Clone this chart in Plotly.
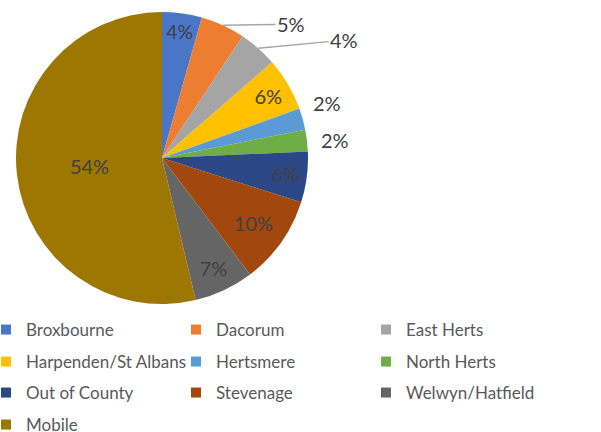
import math
import plotly.graph_objects as go

labels = ["Broxbourne", "Dacorum", "East Herts", "Harpenden/St Albans", "Hertsmere",
          "North Herts", "Out of County", "Stevenage", "Welwyn/Hatfield", "Mobile"]
values = [4.4, 4.9, 4.3, 5.9, 2.4, 2.4, 5.6, 9.8, 6.6, 53.7]
colors = ["#4A76C8", "#ED7D31", "#A5A5A5", "#FFC000", "#5B9BD5",
          "#70AD47", "#2A4786", "#A2470E", "#656565", "#9E7602"]
positions = ["inside", "none", "none", "inside", "none",
             "none", "inside", "inside", "inside", "inside"]
legend_rows = [1, 1, 1, 2, 2, 2, 3, 3, 3, 4]

W, H = 601, 432
PLOT_H = 312          # plot area height (legend sits below it)
cx, cy, r = 162, 158, 146
FONT = "Lato"
TXT = "#404040"

fig = go.Figure()
fig.add_trace(go.Pie(
    labels=labels, values=values, sort=False, direction="clockwise", rotation=0,
    marker=dict(colors=colors, line=dict(color="white", width=0)),
    texttemplate="%{percent:.0%}",
    textposition=positions,
    insidetextorientation="horizontal",
    textfont=dict(family=FONT, size=20, color=TXT),
    insidetextfont=dict(family=FONT, size=20, color=TXT),
    domain=dict(x=[(cx - r) / W, (cx + r) / W],
                y=[(PLOT_H - cy - r) / PLOT_H, (PLOT_H - cy + r) / PLOT_H]),
    showlegend=False,
    hoverinfo="label+percent",
))

# outside labels (Dacorum, East Herts with leader lines; Hertsmere, North Herts plain)
total = sum(values)
label_offsets = {1: (68, -1, True), 2: (86, -8, True), 4: (24, -16, False), 5: (28, -1, False)}
cum = 0.0
for i, v in enumerate(values):
    mid = (cum + v / 2) / total * 2 * math.pi
    cum += v
    if i not in label_offsets:
        continue
    px = cx + r * math.sin(mid)
    py = cy - r * math.cos(mid)
    dx, dy, arrow = label_offsets[i]
    txt = f"{round(v / total * 100)}%"
    if arrow:
        fig.add_annotation(x=px / W, y=1 - py / PLOT_H, xref="paper", yref="paper", text=txt,
                           showarrow=True, arrowhead=0, arrowwidth=1.5, arrowcolor="#A6A6A6",
                           ax=dx, ay=dy, font=dict(family=FONT, size=20, color=TXT))
    else:
        fig.add_annotation(x=px / W, y=1 - py / PLOT_H, xref="paper", yref="paper", text=txt,
                           showarrow=False, xshift=dx, yshift=-dy,
                           font=dict(family=FONT, size=20, color=TXT))

# legend entries, one legend per row
for lab, col, row in zip(labels, colors, legend_rows):
    fig.add_trace(go.Scatter(
        x=[None], y=[None], mode="markers", name=lab,
        marker=dict(symbol="square", size=10, color=col),
        legend="legend" if row == 1 else f"legend{row}",
        hoverinfo="skip",
    ))

row_centers = [330, 362, 393, 425]
leg_common = dict(orientation="h", xanchor="left", yanchor="middle",
                  entrywidth=145, entrywidthmode="pixels",
                  font=dict(family=FONT, size=17, color="#595959"),
                  itemclick=False, itemdoubleclick=False, bgcolor="rgba(0,0,0,0)")
legends = {}
for k, yc in enumerate(row_centers, start=1):
    name = "legend" if k == 1 else f"legend{k}"
    legends[name] = dict(x=-14 / W, y=1 - yc / PLOT_H, **leg_common)

fig.update_layout(
    width=W, height=H,
    margin=dict(l=0, r=0, t=0, b=H - PLOT_H, autoexpand=False),
    paper_bgcolor="white", plot_bgcolor="white",
    xaxis=dict(visible=False), yaxis=dict(visible=False),
    showlegend=True,
    **legends,
)

fig.write_html("out.html", config={"displayModeBar": False},
               post_script="document.body.style.margin='0';")
